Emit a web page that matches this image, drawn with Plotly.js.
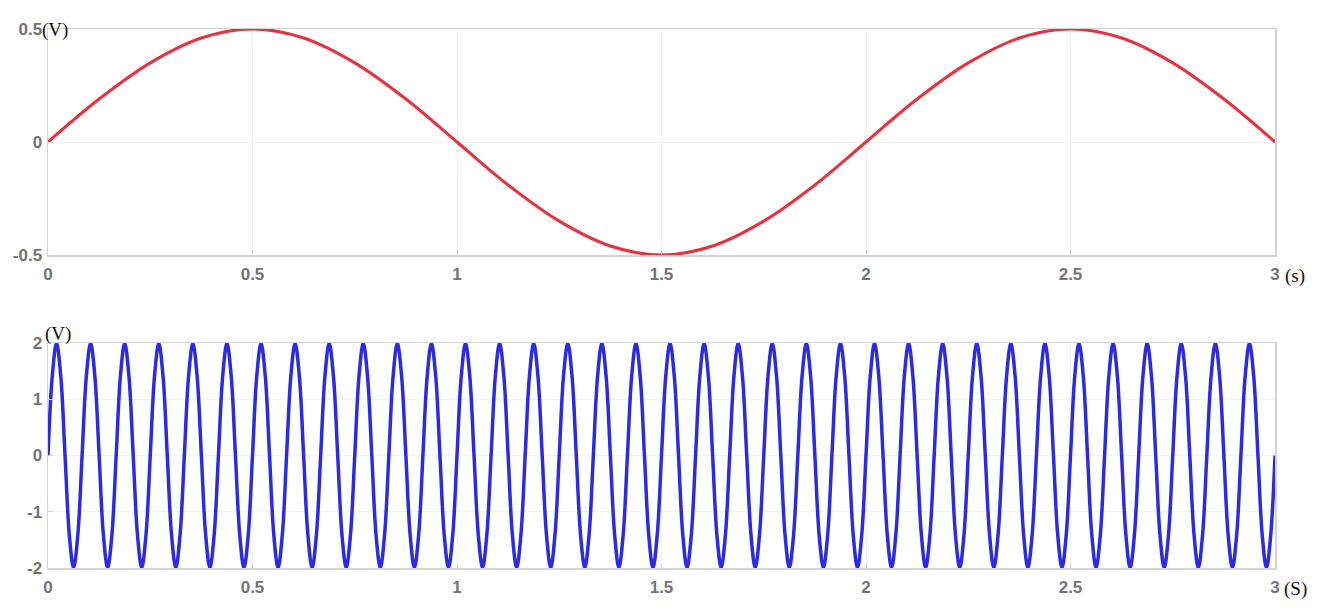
<!DOCTYPE html>
<html>
<head>
<meta charset="utf-8">
<script src="https://cdn.plot.ly/plotly-3.0.1.min.js"></script>
<style>html,body{margin:0;padding:0;background:#fff;}#chart{width:1332px;height:614px;}</style>
</head>
<body>
<div id="chart"></div>
<script>
// Top signal: samples every 0.125 s from 0 to 3 s (volts)
const topStep = 0.125;
const topValues = [
  0, 0.19, 0.35, 0.46, 0.5, 0.46, 0.35, 0.19,
  0, -0.19, -0.35, -0.46, -0.5, -0.46, -0.35, -0.19,
  0, 0.19, 0.35, 0.46, 0.5, 0.46, 0.35, 0.19,
  0
];
// Bottom signal: samples every 3/288 s (eighth of each cycle) from 0 to 3 s (volts)
const bottomStep = 3 / 288;
const bottomValues = [
  0,1.41,2,1.41,0,-1.41,-2,-1.41,
  0,1.41,2,1.41,0,-1.41,-2,-1.41,
  0,1.41,2,1.41,0,-1.41,-2,-1.41,
  0,1.41,2,1.41,0,-1.41,-2,-1.41,
  0,1.41,2,1.41,0,-1.41,-2,-1.41,
  0,1.41,2,1.41,0,-1.41,-2,-1.41,
  0,1.41,2,1.41,0,-1.41,-2,-1.41,
  0,1.41,2,1.41,0,-1.41,-2,-1.41,
  0,1.41,2,1.41,0,-1.41,-2,-1.41,
  0,1.41,2,1.41,0,-1.41,-2,-1.41,
  0,1.41,2,1.41,0,-1.41,-2,-1.41,
  0,1.41,2,1.41,0,-1.41,-2,-1.41,
  0,1.41,2,1.41,0,-1.41,-2,-1.41,
  0,1.41,2,1.41,0,-1.41,-2,-1.41,
  0,1.41,2,1.41,0,-1.41,-2,-1.41,
  0,1.41,2,1.41,0,-1.41,-2,-1.41,
  0,1.41,2,1.41,0,-1.41,-2,-1.41,
  0,1.41,2,1.41,0,-1.41,-2,-1.41,
  0,1.41,2,1.41,0,-1.41,-2,-1.41,
  0,1.41,2,1.41,0,-1.41,-2,-1.41,
  0,1.41,2,1.41,0,-1.41,-2,-1.41,
  0,1.41,2,1.41,0,-1.41,-2,-1.41,
  0,1.41,2,1.41,0,-1.41,-2,-1.41,
  0,1.41,2,1.41,0,-1.41,-2,-1.41,
  0,1.41,2,1.41,0,-1.41,-2,-1.41,
  0,1.41,2,1.41,0,-1.41,-2,-1.41,
  0,1.41,2,1.41,0,-1.41,-2,-1.41,
  0,1.41,2,1.41,0,-1.41,-2,-1.41,
  0,1.41,2,1.41,0,-1.41,-2,-1.41,
  0,1.41,2,1.41,0,-1.41,-2,-1.41,
  0,1.41,2,1.41,0,-1.41,-2,-1.41,
  0,1.41,2,1.41,0,-1.41,-2,-1.41,
  0,1.41,2,1.41,0,-1.41,-2,-1.41,
  0,1.41,2,1.41,0,-1.41,-2,-1.41,
  0,1.41,2,1.41,0,-1.41,-2,-1.41,
  0,1.41,2,1.41,0,-1.41,-2,-1.41,
  0
];
const xTickVals = [0, 0.5, 1, 1.5, 2, 2.5, 3];
const xTickText = ['0', '0.5', '1', '1.5', '2', '2.5', '3'];
const topYTicks = [-0.5, 0, 0.5];
const topYText = ['-0.5', '0', '0.5'];
const bottomYTicks = [-2, -1, 0, 1, 2];
const bottomYText = ['-2', '-1', '0', '1', '2'];

const tickFont = {family: 'Liberation Sans, Arial, sans-serif', size: 17, color: '#737373', weight: 'bold'};
const unitFont = {family: 'Liberation Serif, Times New Roman, serif', size: 19, color: '#111'};

const traces = [
  {x0: 0, dx: topStep, y: topValues, type: 'scatter', mode: 'lines',
   line: {color: '#e8313f', width: 3, shape: 'spline'}, xaxis: 'x', yaxis: 'y', hoverinfo: 'none'},
  {x0: 0, dx: bottomStep, y: bottomValues, type: 'scatter', mode: 'lines',
   line: {color: '#2b2be6', width: 3.5, shape: 'spline'}, xaxis: 'x2', yaxis: 'y2', hoverinfo: 'none'}
];

function xAxis(anchor) {
  return {
    anchor: anchor, range: [0, 3], tickvals: xTickVals, ticktext: xTickText,
    showline: true, mirror: true, linecolor: '#d4d4d4', linewidth: 1.5,
    ticks: 'inside', ticklen: 5, tickcolor: '#d0d0d0', tickwidth: 1,
    showgrid: true, gridcolor: '#f3f3f3', gridwidth: 1, zeroline: false,
    tickfont: tickFont, ticklabelstandoff: 3, fixedrange: true
  };
}
function yAxis(anchor, domain, range, vals, text) {
  return {
    anchor: anchor, domain: domain, range: range, tickvals: vals, ticktext: text,
    showline: true, mirror: true, linecolor: '#d4d4d4', linewidth: 1.5,
    ticks: 'inside', ticklen: 5, tickcolor: '#d0d0d0', tickwidth: 1,
    showgrid: true, gridcolor: '#f3f3f3', gridwidth: 1, zeroline: false,
    tickfont: tickFont, ticklabelstandoff: 1, fixedrange: true
  };
}

const layout = {
  width: 1332, height: 614,
  margin: {l: 48, r: 57, t: 29, b: 46},
  paper_bgcolor: '#ffffff', plot_bgcolor: '#ffffff',
  showlegend: false,
  xaxis: xAxis('y'),
  yaxis: yAxis('x', [0.5807, 1], [-0.5, 0.5], topYTicks, topYText),
  xaxis2: xAxis('y2'),
  yaxis2: yAxis('x2', [0, 0.4174], [-2, 2], bottomYTicks, bottomYText),
  annotations: [
    {xref: 'x', yref: 'y', x: 0, y: 0.5, text: '(V)', showarrow: false,
     xanchor: 'left', yanchor: 'middle', xshift: -8, yshift: -1, font: unitFont},
    {xref: 'x2', yref: 'y2', x: 0, y: 2, text: '(V)', showarrow: false,
     xanchor: 'left', yanchor: 'bottom', xshift: -5, yshift: -4, font: unitFont},
    {xref: 'x', yref: 'y', x: 3, y: -0.5, text: '(s)', showarrow: false,
     xanchor: 'left', yanchor: 'top', xshift: 8, yshift: -8, font: unitFont},
    {xref: 'x2', yref: 'y2', x: 3, y: -2, text: '(S)', showarrow: false,
     xanchor: 'left', yanchor: 'top', xshift: 7, yshift: -8, font: unitFont}
  ]
};

Plotly.newPlot('chart', traces, layout, {staticPlot: true, displayModeBar: false});
</script>
</body>
</html>
